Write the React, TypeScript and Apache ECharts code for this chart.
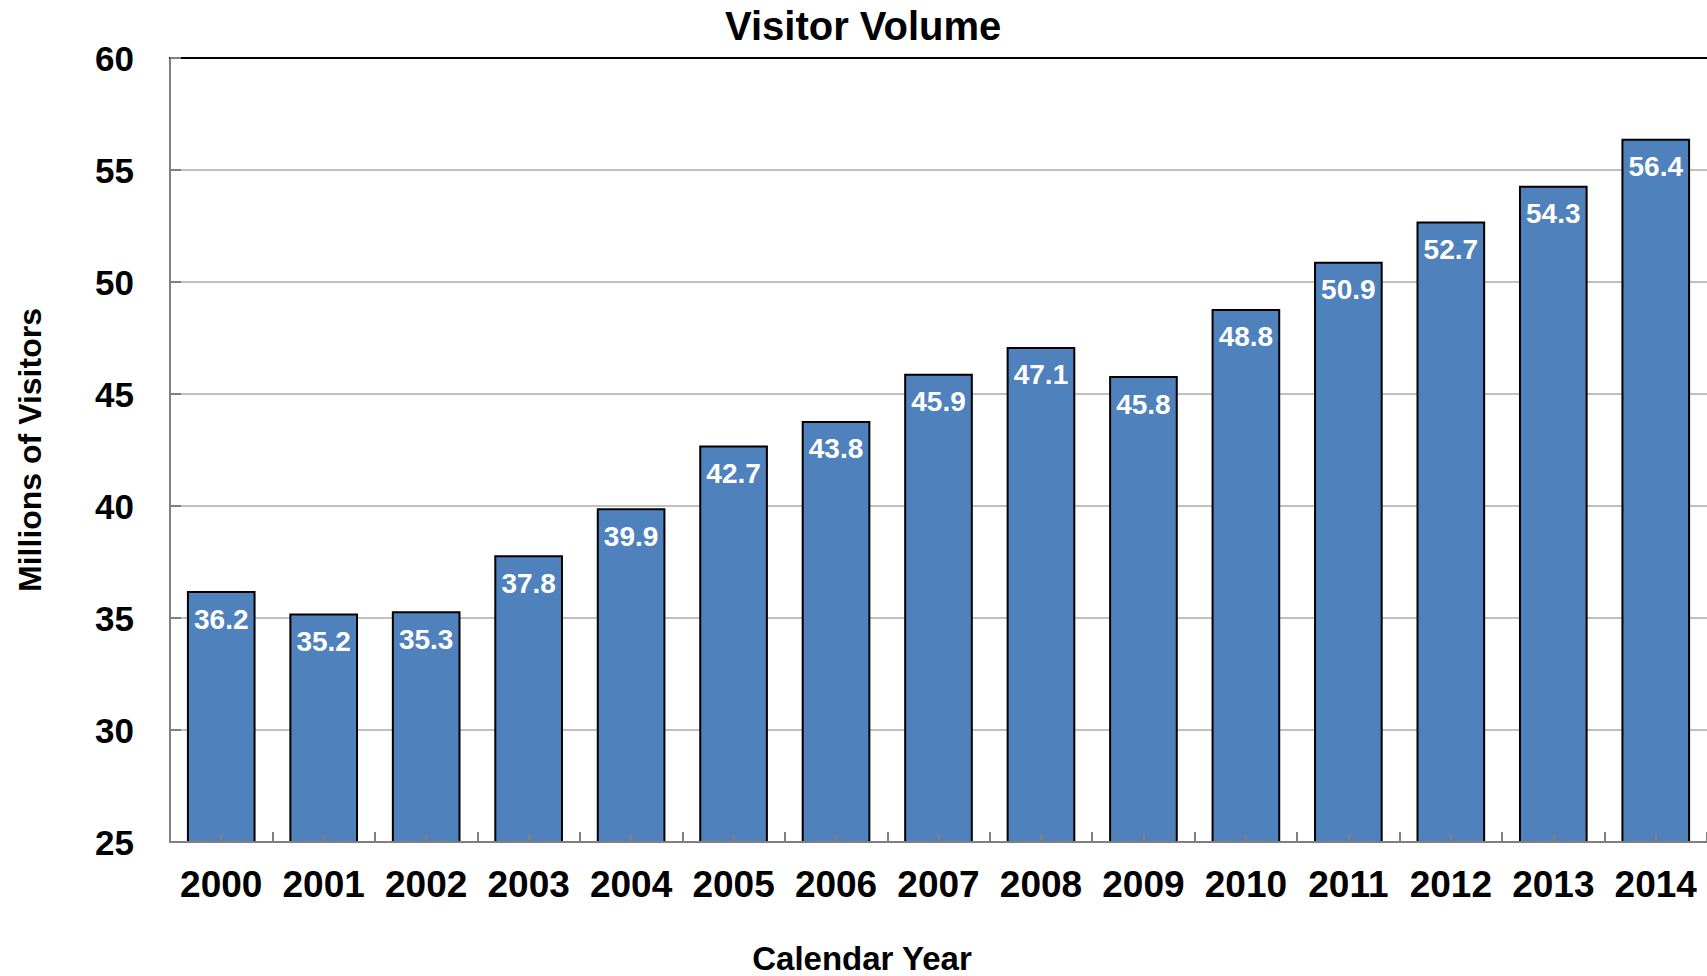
import React, { useEffect, useRef } from "react";
import * as echarts from "echarts";

const years = ["2000", "2001", "2002", "2003", "2004", "2005", "2006", "2007", "2008", "2009", "2010", "2011", "2012", "2013", "2014"];
const visitors = [36.2, 35.2, 35.3, 37.8, 39.9, 42.7, 43.8, 45.9, 47.1, 45.8, 48.8, 50.9, 52.7, 54.3, 56.4];
const yMin = 25;
const yMax = 60;
const yStep = 5;
const titleText = "Visitor Volume";
const xName = "Calendar Year";
const yName = "Millions of Visitors";

const FONT = "'Liberation Sans', Arial, sans-serif";

export default function App() {
  const ref = useRef<HTMLDivElement>(null);
  useEffect(() => {
    if (!ref.current) return;
    const chart = echarts.init(ref.current, null, { renderer: "svg" });
    chart.setOption({
      animation: false,
      backgroundColor: "#ffffff",
      textStyle: { fontFamily: FONT },
      title: {
        text: titleText,
        left: 720,
        top: 1,
        textStyle: { fontFamily: FONT, fontSize: 40, fontWeight: "bold", color: "#000" },
      },
      graphic: [
        {
          type: "text",
          x: 862,
          y: 958,
          style: {
            text: xName,
            font: `bold 33px ${FONT}`,
            fill: "#000",
            textAlign: "center",
            textVerticalAlign: "middle",
          },
        },
      ],
      grid: { left: 170, top: 58, width: 1543, bottom: 134, containLabel: false },
      xAxis: [
        {
          type: "category",
          data: years,
          position: "bottom",
          z: 5,
          axisLine: { show: true, lineStyle: { color: "#808080", width: 2 } },
          axisTick: { show: true, inside: true, length: 10, alignWithLabel: false, interval: 0, lineStyle: { color: "#808080", width: 2 } },
          axisLabel: { interval: 0, hideOverlap: false, fontFamily: FONT, fontSize: 37, fontWeight: "bold", color: "#000", margin: 24 },
          splitLine: { show: false },
        },
        {
          type: "category",
          data: years,
          position: "bottom",
          z: 5,
          axisLine: { show: false },
          axisTick: { show: true, inside: true, length: 8, alignWithLabel: true, interval: 0, lineStyle: { color: "#808080", width: 2 } },
          axisLabel: { show: false },
          splitLine: { show: false },
        },
        {
          type: "category",
          data: years,
          position: "top",
          axisLine: { show: true, lineStyle: { color: "#000", width: 2 } },
          axisTick: { show: false },
          axisLabel: { show: false },
          splitLine: { show: false },
        },
      ],
      yAxis: {
        type: "value",
        min: yMin,
        max: yMax,
        interval: yStep,
        name: yName,
        nameLocation: "middle",
        nameGap: 124,
        nameTextStyle: { fontFamily: FONT, fontSize: 32, fontWeight: "bold", color: "#000" },
        axisLine: { show: true, lineStyle: { color: "#808080", width: 2 } },
        axisTick: { show: true, inside: true, length: 11, lineStyle: { color: "#808080", width: 2 } },
        axisLabel: { fontFamily: FONT, fontSize: 35, fontWeight: "bold", color: "#000", margin: 36 },
        splitLine: { show: true, lineStyle: { color: "#c0c0c0", width: 2 } },
      },
      series: [
        {
          type: "bar",
          data: visitors,
          xAxisIndex: 0,
          barWidth: "67%",
          itemStyle: { color: "#4f81bd", borderColor: "#000", borderWidth: 2 },
          label: {
            show: true,
            position: "insideTop",
            distance: 14,
            color: "#fff",
            fontFamily: FONT,
            fontSize: 28,
            fontWeight: "bold",
            formatter: (p: any) => Number(p.value).toFixed(1),
          },
        },
      ],
    });
    return () => chart.dispose();
  }, []);
  return <div ref={ref} style={{ position: "fixed", left: 0, top: 0, width: 1707, height: 976 }} />;
}
